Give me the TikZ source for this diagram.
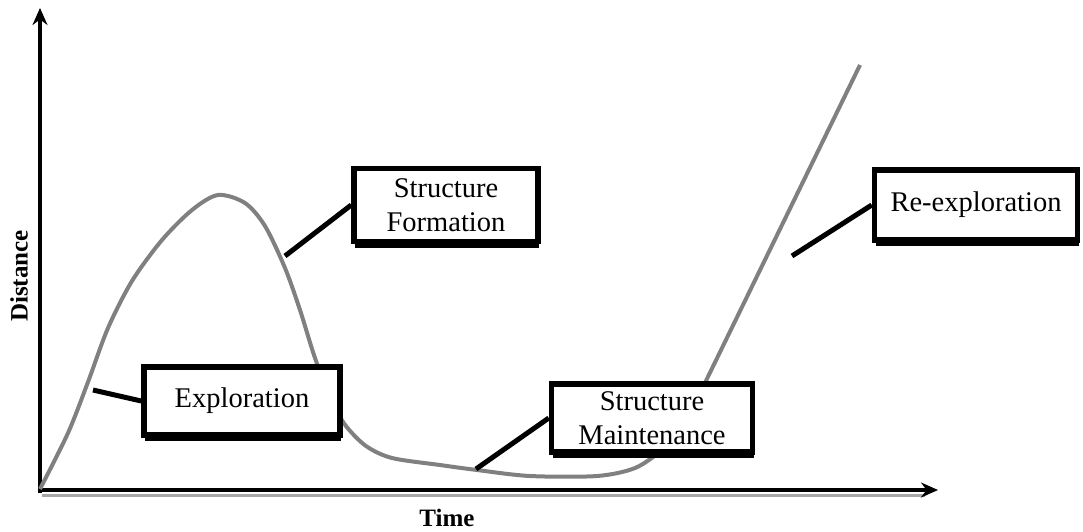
\documentclass[tikz,border=0pt]{standalone}
\usepackage{fontspec}
\setmainfont{Liberation Serif}
\usetikzlibrary{arrows.meta,shadows}
\begin{document}
\begin{tikzpicture}[x=1pt,y=-1pt,
  axis/.style={line width=4.5pt,-{Stealth[length=17pt,width=15pt]}},
  curve/.style={draw=black!50,line width=4pt,line join=round},
  conn/.style={draw=black,line width=5pt},
  box/.style={draw=black,fill=white,line width=5.5pt,align=center,
    font=\fontsize{28.5}{34}\selectfont,
    drop shadow={shadow xshift=1pt,shadow yshift=-6pt,opacity=1,fill=black}},
  axlabel/.style={font=\fontsize{25}{25}\selectfont\bfseries}]
\useasboundingbox (0,0) rectangle (1083,531);
% axes
\draw[black!35,line width=3pt] (42,495) -- (925,495);
\draw[axis] (40,493) -- (40,8);
\draw[axis] (38,490) -- (938,490);
\node[axlabel,rotate=90] (ylab) at (19,276) {Distance};
\node[axlabel] (xlab) at (447,518) {Time};
% curve
\draw[curve] plot[smooth,tension=0.5] coordinates {(40,489) (68,433) (88,382) (108,328) (132,281) (162,240) (192,210) (218,195) (245,203) (265,226) (285,268) (300,310) (315,358) (332,402) (346,426) (366,446) (392,458) (440,465) (477,470) (530,476) (597,476) (635,468) (662,450) (682,430)} -- (860,65);
% connectors
\coordinate (c1) at (93,390);
\coordinate (c2) at (285,256);
\coordinate (c3) at (476,469);
\coordinate (c4) at (792,256);
% boxes
\node[box,minimum width=196,minimum height=68] (expl) at (242,401) {Exploration};
\node[box,minimum width=184,minimum height=73] (form) at (446,205) {Structure\\Formation};
\node[box,minimum width=201,minimum height=68] (maint) at (652,418) {Structure\\Maintenance};
\node[box,minimum width=203,minimum height=70] (reexp) at (976,205) {Re-exploration};
\draw[conn] (c1) -- (expl.west);
\draw[conn] (c2) -- (form.west);
\draw[conn] (c3) -- (maint.west);
\draw[conn] (c4) -- (reexp.west);
\end{tikzpicture}
\end{document}
